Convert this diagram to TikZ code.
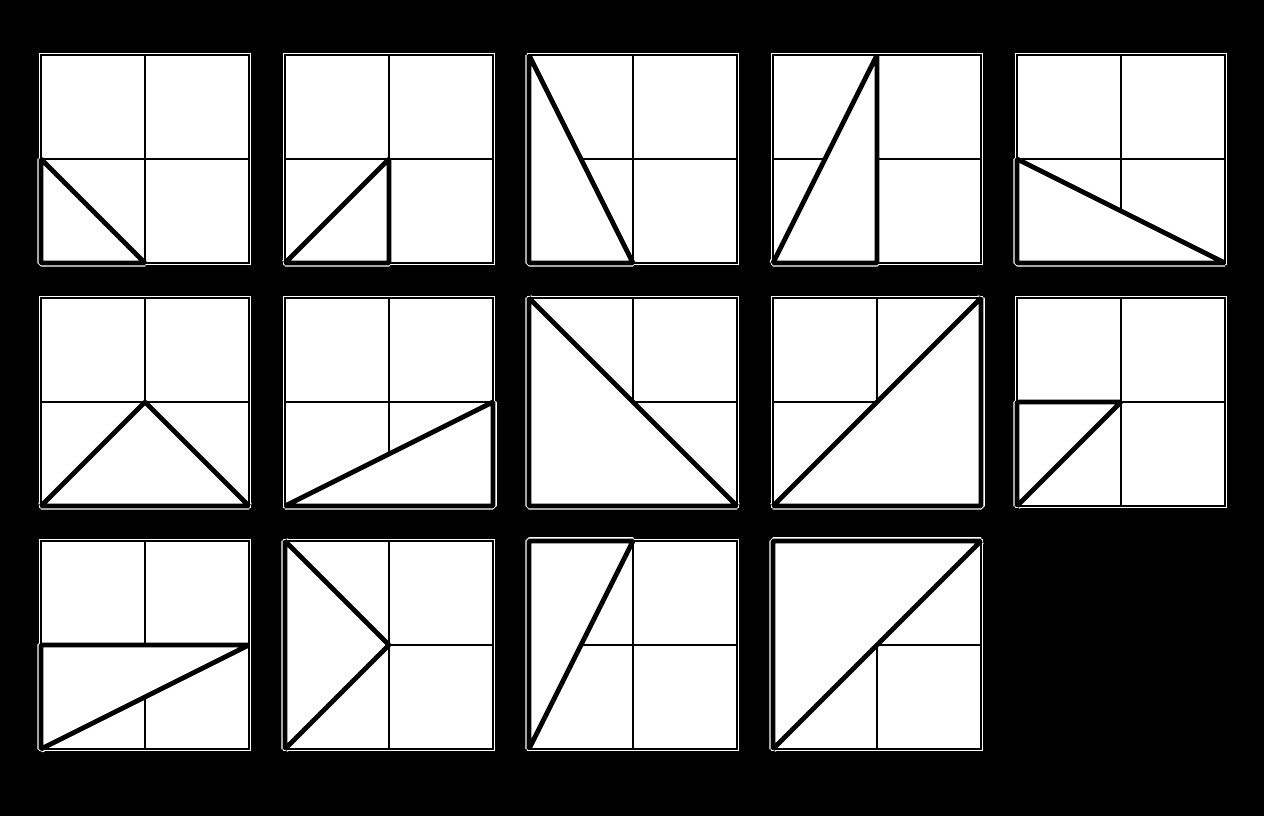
\documentclass[tikz,border=0pt]{standalone}
\begin{document}
\begin{tikzpicture}[x=1pt,y=1pt,
  halo/.style={white,line width=7.5pt,line join=bevel},
  thin/.style={black,line width=1.5pt},
  thick/.style={black,fill=white,line width=4.8pt,line join=bevel}]
\fill[black] (0,0) rectangle (1264,816);
\useasboundingbox (0,0) rectangle (1264,816);
\newcommand\mytile[3]{%
  \begin{scope}[shift={(#1,#2)},scale=104]
    \draw[halo] #3 -- cycle;
    \fill[white] (-0.022,-0.022) rectangle (2.022,2.022);
    \draw[thin] (0,0) rectangle (2,2) (1,0) -- (1,2) (0,1) -- (2,1);
    \filldraw[thick] #3 -- cycle;
  \end{scope}}
% row 1
\mytile{41}{553}{(0,0) -- (1,0) -- (0,1)}
\mytile{285}{553}{(0,0) -- (1,0) -- (1,1)}
\mytile{529}{553}{(0,0) -- (1,0) -- (0,2)}
\mytile{773}{553}{(0,0) -- (1,0) -- (1,2)}
\mytile{1017}{553}{(0,0) -- (2,0) -- (0,1)}
% row 2
\mytile{41}{310}{(0,0) -- (2,0) -- (1,1)}
\mytile{285}{310}{(0,0) -- (2,0) -- (2,1)}
\mytile{529}{310}{(0,0) -- (2,0) -- (0,2)}
\mytile{773}{310}{(0,0) -- (2,0) -- (2,2)}
\mytile{1017}{310}{(0,0) -- (0,1) -- (1,1)}
% row 3
\mytile{41}{67}{(0,0) -- (0,1) -- (2,1)}
\mytile{285}{67}{(0,0) -- (0,2) -- (1,1)}
\mytile{529}{67}{(0,0) -- (0,2) -- (1,2)}
\mytile{773}{67}{(0,0) -- (0,2) -- (2,2)}
\end{tikzpicture}
\end{document}
